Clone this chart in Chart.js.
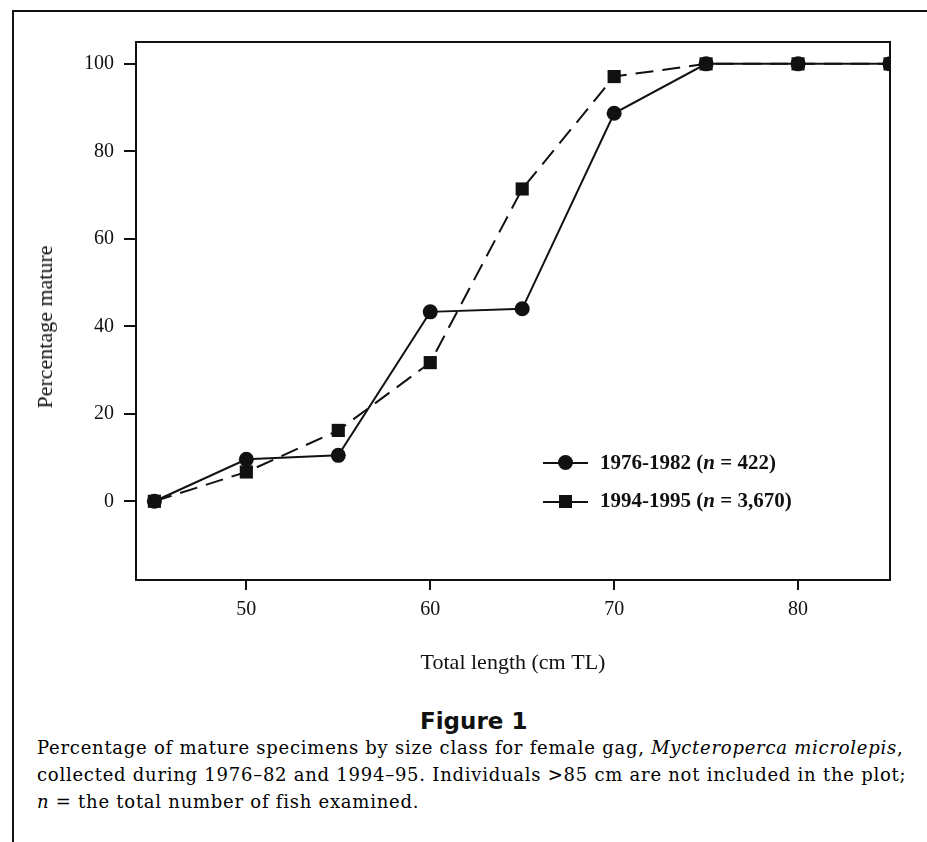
<!DOCTYPE html>
<html>
<head>
<meta charset="utf-8">
<script src="https://cdn.jsdelivr.net/npm/chart.js@4.4.1/dist/chart.umd.min.js"></script>
<style>
    body { margin: 0; background: #fff; width: 927px; height: 842px; overflow: hidden; position: relative; font-family: "Liberation Serif", serif; color: #111; }
    #frame { position: absolute; left: 12px; top: 10px; width: 930px; height: 840px; border-top: 2px solid #111; border-left: 2px solid #111; }
    #chartBox { position: absolute; left: 0; top: 0; width: 927px; height: 700px; }
    #ytitle { position: absolute; left: 45px; top: 327px; transform: translate(-50%, -50%) rotate(-90deg); font-size: 22px; white-space: nowrap; }
    .legRow { position: absolute; left: 543px; height: 21px; }
    .legLine { position: absolute; left: 0; width: 45px; height: 2px; background: #111; }
    .legText { position: absolute; left: 57px; font-size: 21px; line-height: 1; font-weight: bold; white-space: nowrap; }
    .dot { position: absolute; left: 15px; width: 15px; height: 15px; border-radius: 50%; background: #111; }
    .sq { position: absolute; left: 16px; width: 13px; height: 13px; background: #111; }
    #figTitle { position: absolute; left: 420px; top: 710px; font-family: "DejaVu Sans", sans-serif; font-weight: bold; font-size: 23px; line-height: 1; }
    #caption { position: absolute; left: 37px; top: 734px; font-family: "DejaVu Serif", serif; font-size: 18px; line-height: 27px; letter-spacing: 0.75px; white-space: nowrap; color: #000; }
</style>
</head>
<body>
<div id="frame"></div>
<div id="chartBox"><canvas id="chart" width="927" height="700"></canvas></div>
<div id="ytitle">Percentage mature</div>

<div class="legRow" style="top:452px">
    <div class="legLine" style="top:10px"></div>
    <div class="dot" style="top:3px"></div>
    <div class="legText" style="top:0">1976-1982 (<i>n</i> = 422)</div>
</div>
<div class="legRow" style="top:490px">
    <div class="legLine" style="top:11px"></div>
    <div class="sq" style="top:5px"></div>
    <div class="legText" style="top:0">1994-1995 (<i>n</i> = 3,670)</div>
</div>

<div id="figTitle">Figure 1</div>
<div id="caption">Percentage of mature specimens by size class for female gag, <i>Mycteroperca microlepis</i>,<br>collected during 1976–82 and 1994–95. Individuals &gt;85 cm are not included in the plot;<br><i>n</i> = the total number of fish examined.</div>

<script>
// size classes (cm TL)
const lengths = [45, 50, 55, 60, 65, 70, 75, 80, 85];
// percentage mature, 1976-1982
const mature7682 = [0, 9.6, 10.5, 43.3, 44, 88.7, 100, 100, 100];
// percentage mature, 1994-1995
const mature9495 = [0, 6.7, 16.2, 31.7, 71.4, 97.1, 100, 100, 100];

const xTicks = [50, 60, 70, 80];
const yTicks = [0, 20, 40, 60, 80, 100];

// box round the plot area
const framePlugin = {
    id: 'frame',
    beforeDatasetsDraw(chart) {
        var a = chart.chartArea;
        var ctx = chart.ctx;
        ctx.save();
        ctx.strokeStyle = '#111';
        ctx.lineWidth = 2;
        ctx.strokeRect(a.left, a.top, a.right - a.left, a.bottom - a.top);
        ctx.restore();
    }
};

function points(ys) {
    return lengths.map(function (x, i) { return { x: x, y: ys[i] }; });
}

var ctx = document.getElementById('chart').getContext('2d');
var chart = new Chart(ctx, {
    type: 'line',
    data: {
        datasets: [
            {
                label: '1976-1982 (n = 422)',
                data: points(mature7682),
                borderColor: '#111',
                backgroundColor: '#111',
                borderWidth: 2,
                pointStyle: 'circle',
                pointRadius: 7.5,
                pointBorderWidth: 0,
                tension: 0
            },
            {
                label: '1994-1995 (n = 3,670)',
                data: points(mature9495),
                borderColor: '#111',
                backgroundColor: '#111',
                borderWidth: 2,
                borderDash: [18, 9],
                pointStyle: 'rect',
                pointRadius: 9.3,
                pointBorderWidth: 0,
                tension: 0
            }
        ]
    },
    options: {
        responsive: false,
        animation: false,
        layout: { padding: { left: 0, top: 42, right: 37, bottom: 0 } },
        plugins: {
            legend: { display: false },
            tooltip: { enabled: false }
        },
        scales: {
            x: {
                type: 'linear',
                min: 44,
                max: 85,
                border: { display: false },
                grid: { display: true, drawOnChartArea: false, drawTicks: true, tickLength: 10, lineWidth: 2, color: '#111' },
                ticks: { color: '#111', padding: 8, font: { family: 'Liberation Serif', size: 20 } },
                afterBuildTicks: function (axis) { axis.ticks = xTicks.map(function (v) { return { value: v }; }); },
                afterFit: function (axis) { axis.height = 120; },
                title: {
                    display: true,
                    text: 'Total length (cm TL)',
                    color: '#111',
                    font: { family: 'Liberation Serif', size: 22 },
                    padding: { top: 0, bottom: 24 }
                }
            },
            y: {
                min: -18,
                max: 105,
                border: { display: false },
                grid: { display: true, drawOnChartArea: false, drawTicks: true, tickLength: 12, lineWidth: 2, color: '#111' },
                ticks: { color: '#111', padding: 10, font: { family: 'Liberation Serif', size: 20 } },
                afterBuildTicks: function (axis) { axis.ticks = yTicks.map(function (v) { return { value: v }; }); },
                afterFit: function (axis) { axis.width = 136; }
            }
        }
    },
    plugins: [framePlugin]
});
</script>
</body>
</html>
